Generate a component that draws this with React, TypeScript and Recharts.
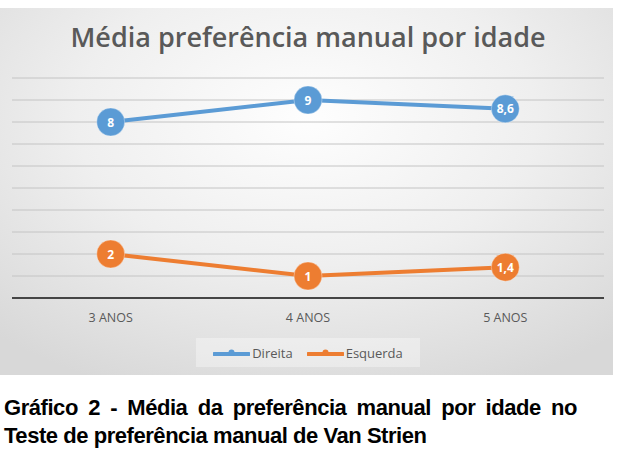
import React from 'react';
import { LineChart, Line, XAxis, YAxis, CartesianGrid } from 'recharts';

const categories = ['3 ANOS', '4 ANOS', '5 ANOS'];
const direita = [8, 9, 8.6];
const esquerda = [2, 1, 1.4];
const yTicks = [0, 1, 2, 3, 4, 5, 6, 7, 8, 9, 10];

const BLUE = '#5B9BD5';
const ORANGE = '#ED7D31';
const FONT = '"Open Sans", Lato, sans-serif';

const data = categories.map((name, i) => ({ name, direita: direita[i], esquerda: esquerda[i] }));

const fmt = (v: number) => String(v).replace('.', ',');

const makeDot = (color: string) => (props: any) => {
  const { cx, cy, value, index } = props;
  if (cx == null || cy == null) return <g key={index} />;
  return (
    <g key={`dot-${index}`}>
      <circle cx={cx} cy={cy} r={14} fill={color} stroke="#ffffff" strokeOpacity={0.35} strokeWidth={1} />
      <text
        x={cx}
        y={cy}
        textAnchor="middle"
        dominantBaseline="central"
        fill="#ffffff"
        fontFamily={FONT}
        fontWeight={700}
        fontSize={12}
      >
        {fmt(value)}
      </text>
    </g>
  );
};

const LegendBox = () => {
  const items = [
    { label: 'Direita', color: BLUE },
    { label: 'Esquerda', color: ORANGE },
  ];
  return (
    <div
      style={{
        position: 'absolute',
        left: 196,
        top: 330,
        width: 224,
        height: 29,
        display: 'flex',
        alignItems: 'center',
        justifyContent: 'center',
        gap: 14,
        background: 'rgba(255,255,255,0.35)',
        fontFamily: FONT,
        fontSize: 13,
        color: '#595959',
      }}
    >
      {items.map((it) => (
        <div key={it.label} style={{ display: 'flex', alignItems: 'center' }}>
          <svg width={37} height={12} style={{ marginRight: 2 }}>
            <line x1={1} y1={7} x2={36} y2={7} stroke={it.color} strokeWidth={4} strokeLinecap="round" />
            <circle cx={18.5} cy={5.5} r={3} fill={it.color} />
          </svg>
          <span>{it.label}</span>
        </div>
      ))}
    </div>
  );
};

const App: React.FC = () => {
  return (
    <div style={{ position: 'absolute', left: 0, top: 0, width: 620, height: 473, background: '#ffffff' }}>
      <div
        style={{
          position: 'absolute',
          left: 0,
          top: 8,
          width: 613,
          height: 367,
          background: 'radial-gradient(ellipse 75% 80% at 50% 30%, #fefefe 0%, #efefef 50%, #d8d8d8 100%)',
        }}
      >
        <div
          style={{
            position: 'absolute',
            left: 0,
            top: 11,
            width: 616,
            textAlign: 'center',
            fontFamily: FONT,
            fontWeight: 600,
            fontSize: 27,
            lineHeight: '36px',
            color: '#595959',
          }}
        >
          Média preferência manual por idade
        </div>
        <LineChart width={613} height={367} data={data} margin={{ top: 70, right: 9, bottom: 47, left: 12 }}>
          <CartesianGrid horizontal vertical={false} stroke="#c4c4c4" strokeWidth={1} />
          <XAxis
            dataKey="name"
            padding={{ left: 98.7, right: 98.7 }}
            axisLine={{ stroke: '#454545', strokeWidth: 2 }}
            tickLine={false}
            tickMargin={9}
            tick={{ fill: '#595959', fontSize: 12.5, fontFamily: FONT }}
          />
          <YAxis hide domain={[0, 10]} ticks={yTicks} interval={0} />
          <Line
            type="linear"
            dataKey="direita"
            name="Direita"
            stroke={BLUE}
            strokeWidth={4}
            dot={makeDot(BLUE)}
            activeDot={false}
            isAnimationActive={false}
          />
          <Line
            type="linear"
            dataKey="esquerda"
            name="Esquerda"
            stroke={ORANGE}
            strokeWidth={4}
            dot={makeDot(ORANGE)}
            activeDot={false}
            isAnimationActive={false}
          />
        </LineChart>
        <LegendBox />
      </div>
      <div
        style={{
          position: 'absolute',
          left: 4,
          top: 394,
          width: 573,
          fontFamily: '"Liberation Sans Narrow", "Arial Narrow", "Liberation Sans", sans-serif',
          fontWeight: 700,
          fontSize: 22,
          letterSpacing: -0.45,
          lineHeight: '28px',
          color: '#000000',
        }}
      >
        <div style={{ textAlign: 'justify', textAlignLast: 'justify' }}>
          Gráfico 2 - Média da preferência manual por idade no
        </div>
        <div>Teste de preferência manual de Van Strien</div>
      </div>
    </div>
  );
};

export default App;
